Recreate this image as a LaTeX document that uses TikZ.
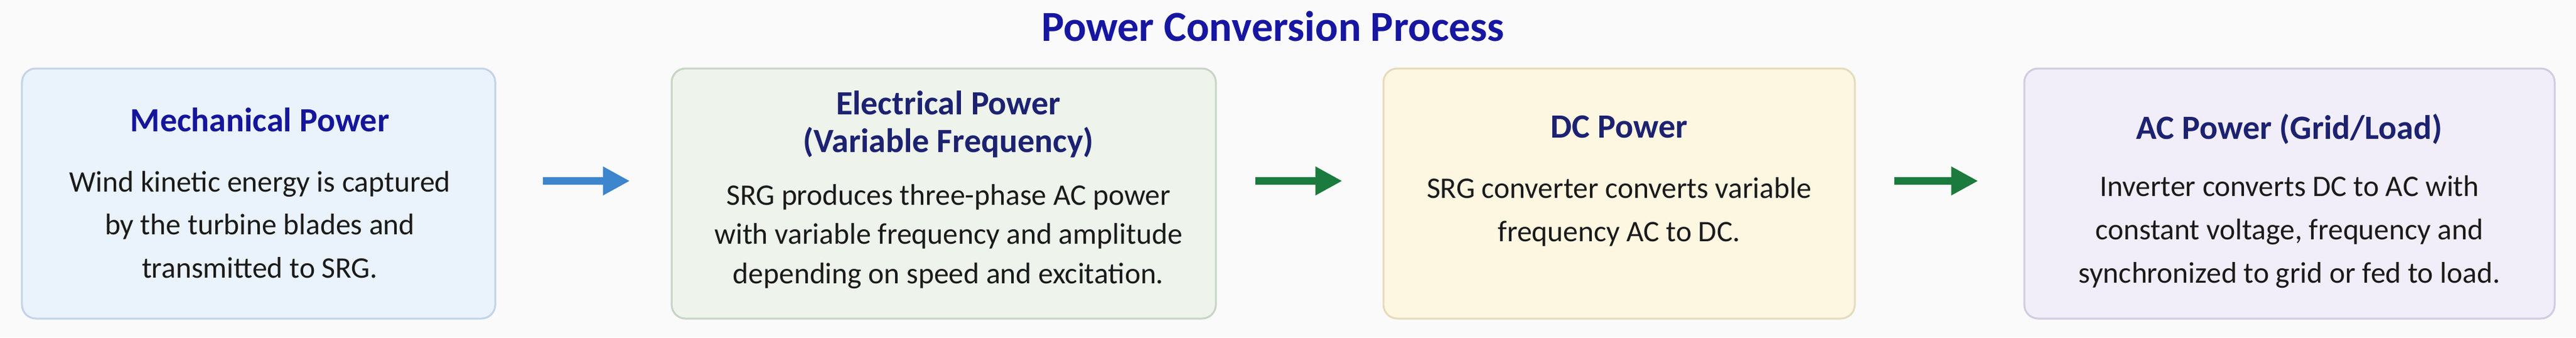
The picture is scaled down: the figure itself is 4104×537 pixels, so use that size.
\documentclass[tikz,border=0pt]{standalone}
\usepackage{fontspec}
\setmainfont{Carlito}
\usetikzlibrary{arrows.meta}
\definecolor{bg}{HTML}{FAFAFA}
\definecolor{maintitle}{HTML}{1616A0}
\definecolor{boxtitle}{HTML}{1C2270}
\definecolor{boxtitleA}{HTML}{15159A}
\definecolor{bodytext}{HTML}{1A1A1A}
\definecolor{fillA}{HTML}{EAF3FC}\definecolor{drawA}{HTML}{C3D4E8}
\definecolor{fillB}{HTML}{EEF4EC}\definecolor{drawB}{HTML}{C8D5C5}
\definecolor{fillC}{HTML}{FDF6E1}\definecolor{drawC}{HTML}{E5DCBD}
\definecolor{fillD}{HTML}{F2EEF9}\definecolor{drawD}{HTML}{D2CBE2}
\definecolor{arrblue}{HTML}{3D85CC}
\definecolor{arrgreen}{HTML}{1B7A3D}
\tikzset{
  panel/.style={rectangle, rounded corners=4.4pt, line width=0.6pt, inner sep=0pt, minimum height=79.6pt},
  ttl/.style={anchor=base, inner sep=0pt, text=boxtitle, font=\fontsize{10.8}{13}\selectfont\bfseries},
  txt/.style={anchor=base, inner sep=0pt, text=bodytext, font=\fontsize{9.5}{11}\selectfont},
  flow/.style={line width=2.4pt, -{Triangle[length=8.6pt,width=8.6pt]}},
}
\begin{document}
\begin{tikzpicture}[x=0.2pt,y=-0.2pt]
\fill[bg] (0,0) rectangle (4104,537);
\useasboundingbox (0,0) rectangle (4104,537);

\node[anchor=base, inner sep=0pt, text=maintitle, font=\fontsize{13.6}{16}\selectfont\bfseries] (title) at (2028,65) {Power Conversion Process};

\node[panel, fill=fillA, draw=drawA, minimum width=150.8pt] (b1) at (412,308) {};
\node[panel, fill=fillB, draw=drawB, minimum width=173.4pt] (b2) at (1503.5,308) {};
\node[panel, fill=fillC, draw=drawC, minimum width=150.2pt] (b3) at (2579.5,308) {};
\node[panel, fill=fillD, draw=drawD, minimum width=169pt] (b4) at (3647.5,308) {};

% box 1
\node[ttl, text=boxtitleA] (t1) at (414,209) {Mechanical Power};
\node[txt] (b1l1) at (414,305) {Wind kinetic energy is captured};
\node[txt] (b1l2) at (414,373) {by the turbine blades and};
\node[txt] (b1l3) at (414,442) {transmitted to SRG.};

% box 2
\node[ttl] (t2a) at (1511,182) {Electrical Power};
\node[ttl] (t2b) at (1511,242) {(Variable Frequency)};
\node[txt] (b2l1) at (1511,326) {SRG produces three-phase AC power};
\node[txt] (b2l2) at (1511,388) {with variable frequency and amplitude};
\node[txt] (b2l3) at (1511,451) {depending on speed and excitation.};

% box 3
\node[ttl] (t3) at (2579.5,219) {DC Power};
\node[txt] (b3l1) at (2579.5,315) {SRG converter converts variable};
\node[txt] (b3l2) at (2579.5,384) {frequency AC to DC.};

% box 4
\node[ttl] (t4) at (3647.5,221) {AC Power (Grid/Load)};
\node[txt] (b4l1) at (3647.5,312) {Inverter converts DC to AC with};
\node[txt] (b4l2) at (3647.5,381) {constant voltage, frequency and};
\node[txt] (b4l3) at (3647.5,450) {synchronized to grid or fed to load.};

% arrows
\draw[flow, arrblue] ([shift={(74,-20)}]b1.east) -- ([shift={(-65,-20)}]b2.west);
\draw[flow, arrgreen] ([shift={(61,-20)}]b2.east) -- ([shift={(-64,-20)}]b3.west);
\draw[flow, arrgreen] ([shift={(61,-20)}]b3.east) -- ([shift={(-72,-20)}]b4.west);
\end{tikzpicture}
\end{document}
